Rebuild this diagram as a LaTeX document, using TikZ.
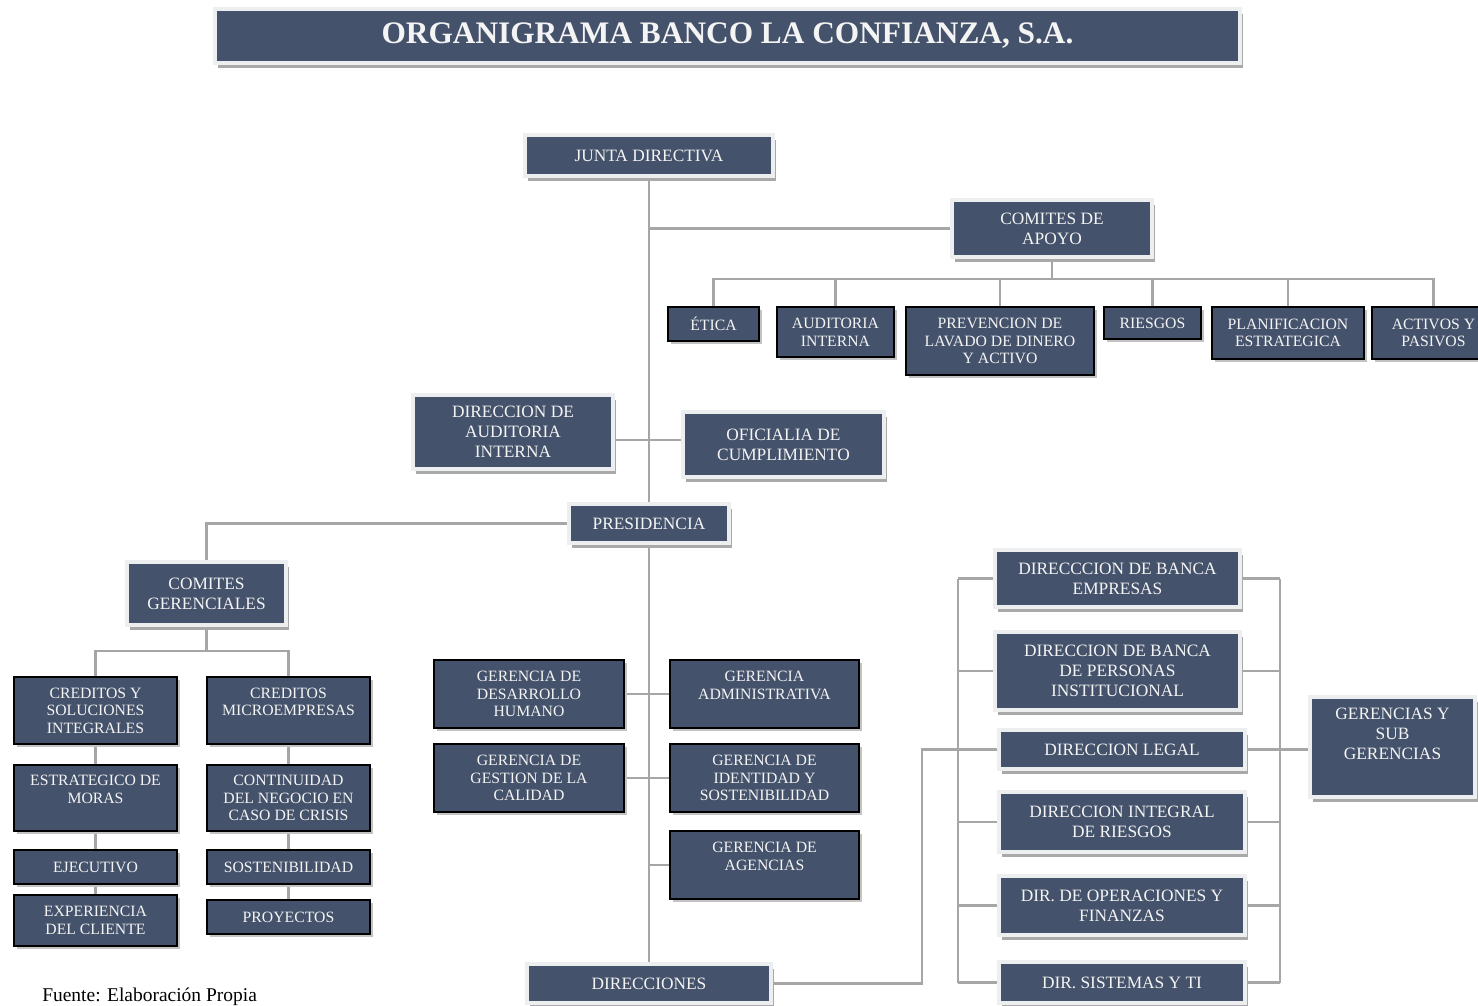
\documentclass[tikz,border=0pt]{standalone}
\usepackage{fontspec}
\setmainfont{Liberation Serif}
\usetikzlibrary{shadows,backgrounds}
\definecolor{boxfill}{HTML}{44526B}
\definecolor{framec}{HTML}{EDEEF0}
\definecolor{shadowc}{HTML}{A9A9A9}
\definecolor{linec}{HTML}{A6A6A6}
\definecolor{textc}{HTML}{F4F4F4}
\newcommand{\bx}[7]{\node[#1, minimum width={(#5-#3)*0.75pt}, minimum height={(#6-#4)*0.75pt}] (#2) at ({(#3+#5)/2},{(#4+#6)/2}) {#7};}
\begin{document}
\begin{tikzpicture}[x=0.75pt,y=-0.75pt,
  fbox/.style={rectangle, fill=boxfill, draw=framec, line width=3.6pt, text=textc,
    inner sep=0pt, align=center, font=\fontsize{13}{15}\selectfont,
    drop shadow={shadow xshift=2pt, shadow yshift=-4pt, fill=shadowc, opacity=1}},
  dbox/.style={rectangle, fill=boxfill, draw=black, line width=1.4pt, text=textc,
    inner sep=0pt, align=center, font=\fontsize{11.8}{13.2}\selectfont,
    drop shadow={shadow xshift=2.5pt, shadow yshift=-2.5pt, fill=shadowc!70, opacity=1}},
  tfont/.style={font=\fontsize{23.5}{28}\selectfont\bfseries},
  conn/.style={draw=linec, line width=2.2pt}]
\useasboundingbox (0,0) rectangle (1478,1006);

% ---- framed boxes
\bx{fbox,tfont}{title}{215}{9}{1240}{63}{ORGANIGRAMA BANCO LA CONFIANZA, S.A.}
\bx{fbox}{junta}{525}{135}{773}{176}{JUNTA DIRECTIVA}
\bx{fbox}{capoyo}{952}{200}{1152}{257}{COMITES DE\\APOYO}
\bx{fbox}{daudit}{413}{395}{613}{469}{DIRECCION DE\\AUDITORIA\\INTERNA}
\bx{fbox}{ofic}{683}{412}{884}{477}{OFICIALIA DE\\CUMPLIMIENTO}
\bx{fbox}{pres}{569}{504}{729}{543}{PRESIDENCIA}
\bx{fbox}{cger}{127}{562}{286}{625}{COMITES\\GERENCIALES}
\bx{fbox}{direc}{527}{964}{771}{1003}{DIRECCIONES}
\bx{fbox}{rb1}{995}{550}{1240}{607}{DIRECCCION DE BANCA\\EMPRESAS}
\bx{fbox}{rb2}{995}{632}{1240}{710}{DIRECCION DE BANCA\\DE PERSONAS\\INSTITUCIONAL}
\bx{fbox}{rb3}{999}{730}{1245}{769}{DIRECCION LEGAL}
\bx{fbox}{rb4}{999}{792}{1245}{852}{DIRECCION INTEGRAL\\DE RIESGOS}
\bx{fbox}{rb5}{999}{876}{1245}{935}{DIR. DE OPERACIONES Y\\FINANZAS}
\bx{fbox}{rb6}{999}{962}{1245}{1003}{DIR. SISTEMAS Y TI}
\bx{fbox}{gsub}{1310}{697}{1475}{797}{GERENCIAS Y\\SUB\\GERENCIAS\\\strut}

% ---- dark boxes: comites de apoyo
\bx{dbox}{etica}{668}{307}{759}{341}{ÉTICA}
\bx{dbox}{aud}{777}{307}{894}{357}{AUDITORIA\\INTERNA}
\bx{dbox}{prev}{906}{307}{1094}{375}{PREVENCION DE\\LAVADO DE DINERO\\Y ACTIVO}
\bx{dbox}{ries}{1104}{307}{1201}{339}{RIESGOS}
\bx{dbox}{plan}{1212}{307}{1364}{359}{PLANIFICACION\\ESTRATEGICA}
\bx{dbox}{act}{1372}{307}{1495}{359}{ACTIVOS Y\\PASIVOS}

% ---- dark boxes: comites gerenciales
\bx{dbox}{cred1}{14}{677}{177}{744}{CREDITOS Y\\SOLUCIONES\\INTEGRALES}
\bx{dbox}{moras}{14}{765}{177}{831}{ESTRATEGICO DE\\MORAS\\\mbox{}}
\bx{dbox}{ejec}{14}{850}{177}{884}{EJECUTIVO}
\bx{dbox}{exper}{14}{895}{177}{946}{EXPERIENCIA\\DEL CLIENTE}
\bx{dbox}{cred2}{207}{677}{370}{744}{CREDITOS\\MICROEMPRESAS\\\mbox{}}
\bx{dbox}{contin}{207}{765}{370}{831}{CONTINUIDAD\\DEL NEGOCIO EN\\CASO DE CRISIS}
\bx{dbox}{sost}{207}{850}{370}{884}{SOSTENIBILIDAD}
\bx{dbox}{proy}{207}{900}{370}{934}{PROYECTOS}

% ---- dark boxes: gerencias
\bx{dbox}{gdh}{434}{660}{624}{728}{GERENCIA DE\\DESARROLLO\\HUMANO}
\bx{dbox}{gadm}{670}{660}{859}{728}{GERENCIA\\ADMINISTRATIVA\\\mbox{}}
\bx{dbox}{gcal}{434}{744}{624}{812}{GERENCIA DE\\GESTION DE LA\\CALIDAD}
\bx{dbox}{gid}{670}{744}{859}{812}{GERENCIA DE\\IDENTIDAD Y\\SOSTENIBILIDAD}
\bx{dbox}{gag}{670}{831}{859}{899}{GERENCIA DE\\AGENCIAS\\\mbox{}}

\node[anchor=base west, font=\fontsize{14.6}{17}\selectfont, inner sep=0pt] (src) at (42,1001) {Fuente: Elaboración Propia};

% ---- connectors
\begin{scope}[on background layer]
\fill[white] (0,0) rectangle (1478,1006);
\coordinate (bA) at (1052,279);
\coordinate (cB) at (649,440);
\coordinate (bC) at (206.5,651);
\coordinate (cD) at (922,749.5);
\coordinate (cL) at (958,0);
\coordinate (cR) at (1280,0);
\draw[conn] (junta.south) -- (pres.north);
\draw[conn] (junta.south |- capoyo.west) -- (capoyo.west);
\draw[conn] (capoyo.south) -- (bA);
\foreach \n in {etica,aud,prev,ries,plan,act} \draw[conn] (\n.north) |- (bA);
\draw[conn] (daudit.east |- cB) -- (ofic.west |- cB);
\draw[conn] (pres.west) -| (cger.north);
\draw[conn] (cger.south) -- (bC);
\draw[conn] (cred1.north) |- (bC);
\draw[conn] (cred2.north) |- (bC);
\draw[conn] (cred1.south) -- (moras.north);
\draw[conn] (moras.south) -- (ejec.north);
\draw[conn] (ejec.south) -- (exper.north);
\draw[conn] (cred2.south) -- (contin.north);
\draw[conn] (contin.south) -- (sost.north);
\draw[conn] (sost.south) -- (proy.north);
\draw[conn] (pres.south) -- (direc.north);
\draw[conn] (gdh.east) -- (gadm.west);
\draw[conn] (gcal.east) -- (gid.west);
\draw[conn] (gag.west) -- (gag.west -| pres.south);
\draw[conn] (direc.east) -| (cD) -- (rb3.west);
\draw[conn] (rb1.west -| cL) -- (rb6.west -| cL);
\draw[conn] (rb1.east -| cR) -- (rb6.east -| cR);
\foreach \n in {rb1,rb2,rb3,rb4,rb5,rb6} {
  \draw[conn] (\n.west) -- (\n.west -| cL);
  \draw[conn] (\n.east) -- (\n.east -| cR);
}
\draw[conn] (rb3.east) -- (gsub.west |- rb3.east);
\end{scope}
\end{tikzpicture}
\end{document}
